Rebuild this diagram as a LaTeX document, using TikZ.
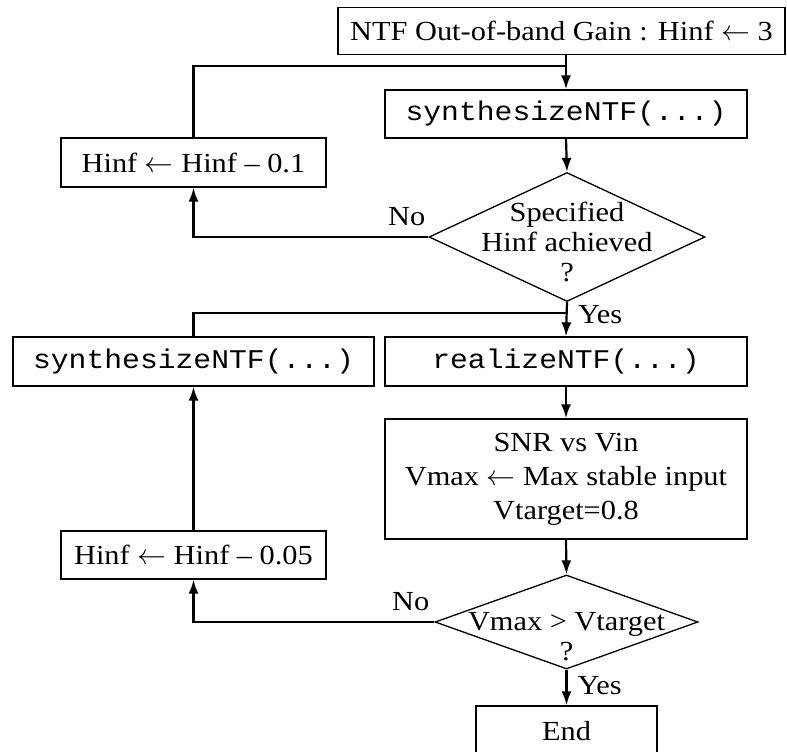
\documentclass[tikz,border=0pt]{standalone}
\usepackage{fontspec}
\setmainfont[FakeStretch=1.1]{Liberation Serif}
\setmonofont[FakeStretch=1.1]{Liberation Mono}
\usetikzlibrary{shapes.geometric}
\usetikzlibrary{arrows.meta}

\begin{document}
\begin{tikzpicture}[x=0.5pt,y=-0.5pt]
\tikzset{
    box/.style={draw, line width=0.65pt, inner sep=0pt, align=center,
        font=\fontsize{13.8}{17}\selectfont},
    codebox/.style={box, font=\ttfamily\fontsize{13.5}{17}\selectfont},
    decision/.style={draw, diamond, line width=0.65pt, inner sep=0pt},
    lbl/.style={inner sep=0pt, align=center, font=\fontsize{13.8}{15}\selectfont},
    flow/.style={line width=1.1pt},
    arrow/.style={flow, -{Latex[length=7pt,width=5pt]}}
}
    \useasboundingbox (0,0) rectangle (787,751);

    % boxes
    \node[box, minimum width=223.5pt, minimum height=23.5pt] (gain) at (561.5,31)
        {NTF Out-of-band Gain : Hinf $\leftarrow$ 3};
    \node[codebox, minimum width=181pt, minimum height=24pt] (syn1) at (566,114) {synthesizeNTF(...)};
    \node[box, minimum width=132.5pt, minimum height=24.5pt] (hinf1) at (193.5,162.5)
        {Hinf $\leftarrow$ Hinf -- 0.1};
    \node[codebox, minimum width=180.5pt, minimum height=24.5pt] (syn2) at (193.5,361.5) {synthesizeNTF(...)};
    \node[codebox, minimum width=181pt, minimum height=24.5pt] (real) at (566,361.5) {realizeNTF(...)};
    \node[box, minimum width=181pt, minimum height=60pt] (snr) at (566,479)
        {SNR vs Vin\\Vmax $\leftarrow$ Max stable input\\Vtarget=0.8};
    \node[box, minimum width=132.5pt, minimum height=24pt] (hinf2) at (193.5,555)
        {Hinf $\leftarrow$ Hinf -- 0.05};
    \node[box, minimum width=90.5pt, minimum height=25pt] (endb) at (566.5,731) {End};

    % decisions
    \node[decision, minimum width=138pt, minimum height=64.5pt] (dec1) at (567,237) {};
    \node[lbl] (dec1txt) at (567,242) {Specified\\Hinf achieved\\?};
    \node[decision, minimum width=131.5pt, minimum height=47pt] (dec2) at (566.5,622) {};
    \node[lbl] (dec2txt) at (566.5,637) {Vmax > Vtarget\\?};

    \coordinate (join1) at (566,66);
    \coordinate (join2) at (566,313);

    % connectors
    \draw[arrow] (gain.south -| syn1.north) -- (syn1.north);
    \draw[flow] (hinf1.north) |- (join1);
    \draw[arrow] (syn1.south) -- (dec1.north);
    \draw[arrow] (dec1.west) -| (hinf1.south)
        node[lbl, pos=0, anchor=south east, xshift=-1pt, yshift=5pt] (no1) {No};
    \draw[arrow] (dec1.south) -- (real.north)
        node[lbl, pos=0, anchor=north west, xshift=5pt, yshift=-1pt] (yes1) {Yes};
    \draw[flow] (syn2.north) |- (join2);
    \draw[arrow] (real.south) -- (snr.north);
    \draw[arrow] (snr.south) -- (dec2.north);
    \draw[arrow] (dec2.west) -| (hinf2.south)
        node[lbl, pos=0, anchor=south east, xshift=-2pt, yshift=5pt] (no2) {No};
    \draw[arrow] (hinf2.north) -- (syn2.south);
    \draw[arrow] (dec2.south) -- (endb.north)
        node[lbl, pos=0, anchor=north west, xshift=5pt, yshift=-3pt] (yes2) {Yes};

\end{tikzpicture}
\end{document}
